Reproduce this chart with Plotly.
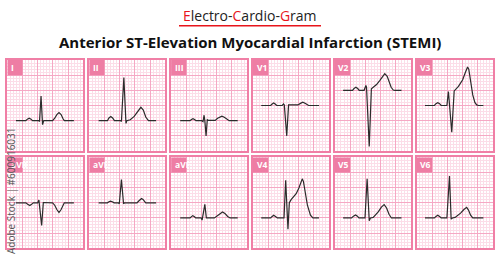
import plotly.graph_objects as go

# ---------------- data (grid units: 1 small square; y relative to baseline) ----------------
lead_names = ["I", "II", "III", "V1", "V2", "V3", "aVR", "aVL", "aVF", "V4", "V5", "V6"]
baselines = [10, 10, 10, 15, 20, 15, 15, 15, 10, 10, 10, 10]

I_x = [2.85, 6.1, 6.6, 7.2, 7.8, 8.3, 10.4, 10.6, 11.1, 11.6, 12.0, 14.9, 15.6, 16.3, 17.0, 17.7, 18.3, 18.75, 21.9]
I_y = [0, 0, 0.5, 0.8, 0.5, 0, 0, -0.3, 8.1, -1.3, 0, 0, 0.8, 2.0, 2.7, 2.0, 0.7, 0, 0]

II_x = [3.1, 6.0, 6.5, 7.1, 7.7, 8.3, 10.4, 10.6, 11.4, 12.1, 12.4, 13.5, 14.8, 16.0, 17.0, 17.8, 18.6, 19.5, 22.0]
II_y = [0, 0, 0.9, 1.4, 0.9, 0, 0, -0.3, 14.2, -0.9, 0, 0.3, 1.4, 3.0, 4.4, 3.5, 1.2, 0, 0]

III_x = [3.0, 6.25, 6.7, 7.2, 7.7, 8.2, 10.1, 10.5, 10.85, 11.1, 11.5, 11.9, 12.2, 14.5, 15.3, 16.0, 16.7, 17.5, 18.3, 19.1, 21.9]
III_y = [0, 0, 0.4, 0.66, 0.4, 0, 0, -0.3, 1.8, 0, -5.0, 0.3, 0.1, 0.1, 0.8, 1.3, 1.5, 1.1, 0.4, 0, 0]

V1_x = [2.7, 5.8, 6.3, 6.8, 7.3, 7.8, 9.6, 10.05, 10.3, 11.1, 11.7, 14.8, 15.6, 16.4, 17.4, 18.3, 21.7]
V1_y = [0, 0, 0.5, 0.8, 0.5, 0, 0, 0.5, 0.2, -10.0, 0.2, 0.2, 0.7, 1.1, 0.6, 0, 0]

V2_x = [2.7, 5.8, 6.3, 6.9, 7.5, 8.0, 9.6, 10.2, 10.4, 11.3, 12.0, 13.7, 14.8, 15.7, 16.4, 17.2, 17.9, 18.5, 19.2, 19.7, 21.9]
V2_y = [0, 0, 0.6, 1.0, 0.6, 0, 0, 1.6, 1.0, -18.5, 0.5, 1.9, 3.3, 4.8, 5.5, 4.6, 2.7, 1.0, 0.1, 0, 0]

V3_x = [2.7, 5.8, 6.3, 6.9, 7.5, 8.0, 9.9, 10.4, 11.5, 12.3, 13.7, 15.1, 15.9, 16.7, 17.1, 17.5, 18.4, 19.1, 19.7, 20.3, 21.9]
V3_y = [0, 0, 0.6, 0.9, 0.6, 0, 0, 4.6, -8.8, 4.8, 6.3, 8.5, 10.7, 12.7, 12.0, 9.0, 3.5, 1.0, 0.2, 0, 0]

aVR_x = [2.85, 6.1, 6.7, 7.4, 8.0, 8.55, 10.0, 10.4, 11.3, 11.85, 14.9, 15.6, 16.3, 17.0, 17.7, 18.3, 18.75, 21.9]
aVR_y = [0, 0, -0.5, -0.9, -0.5, 0, 0, 0.9, -7.5, 0.1, 0, -0.8, -2.2, -3.2, -2.2, -0.7, 0, 0]

aVL_x = [3.1, 6.0, 6.5, 7.0, 7.6, 8.2, 9.6, 9.9, 10.6, 11.3, 11.6, 15.7, 16.3, 16.8, 17.2, 17.7, 18.2, 18.6, 22.0]
aVL_y = [0, 0, 0.35, 0.55, 0.35, 0, 0, -0.3, 7.7, -0.3, 0, 0, 0.6, 1.2, 1.4, 1.1, 0.4, 0, 0]

aVF_x = [3.0, 6.25, 6.7, 7.1, 7.6, 8.1, 9.9, 10.2, 11.1, 11.6, 14.25, 15.2, 16.1, 16.9, 17.7, 18.6, 19.4, 21.9]
aVF_y = [0, 0, 0.45, 0.77, 0.45, 0, 0, -0.7, 4.5, 0, 0, 0.7, 1.6, 2.0, 1.5, 0.5, 0, 0]

V4_x = [2.7, 5.8, 6.3, 6.8, 7.4, 8.0, 10.2, 10.75, 11.5, 11.95, 12.6, 14.2, 15.1, 16.2, 16.6, 17.0, 17.9, 18.9, 19.7, 21.7]
V4_y = [0, 0, 0.5, 0.9, 0.5, 0, 0, 12.4, -3.7, 5.0, 6.1, 8.0, 9.9, 12.9, 12.0, 9.1, 4.2, 0.9, 0, 0]

V5_x = [2.7, 5.5, 6.1, 6.8, 7.4, 7.9, 9.9, 10.6, 11.3, 11.7, 12.6, 14.25, 15.3, 16.2, 17.0, 17.8, 18.6, 21.9]
V5_y = [0, 0, 0.6, 1.0, 0.6, 0, 0, 12.9, -0.9, 0, 0.2, 2.0, 3.6, 4.4, 3.3, 1.2, 0, 0]

V6_x = [2.7, 5.8, 6.3, 6.9, 7.5, 8.0, 9.9, 10.75, 11.3, 11.7, 12.6, 14.4, 15.5, 16.4, 17.0, 17.7, 18.4, 21.9]
V6_y = [0, 0, 0.5, 0.9, 0.5, 0, 0, 13.8, -0.4, 0, 0.2, 1.6, 2.8, 3.5, 2.6, 0.9, 0, 0]

lead_x = [I_x, II_x, III_x, V1_x, V2_x, V3_x, aVR_x, aVL_x, aVF_x, V4_x, V5_x, V6_x]
lead_y = [I_y, II_y, III_y, V1_y, V2_y, V3_y, aVR_y, aVL_y, aVF_y, V4_y, V5_y, V6_y]

title_main = "Anterior ST-Elevation Myocardial Infarction (STEMI)"
watermark = "Adobe Stock | #600916031"

# ---------------- layout ----------------
W, H = 500, 256
col_left0, col_pitch, panel_w = 7.3, 81.9, 76.0
row_tops = [60.0, 157.3]
panel_h = 91.0

MAJOR = "#f5a8c4"
MINOR = "#fcdde8"
BORDER = "#f07fa6"
LABEL_BG = "#ee7da4"
TRACE = "#2b2b2b"

fig = go.Figure()
layout_axes = {}
shapes = []
annotations = []

for i, name in enumerate(lead_names):
    r, c = divmod(i, 6)
    left = col_left0 + col_pitch * c
    top = row_tops[r]
    dx = [left / W, (left + panel_w) / W]
    dy = [1 - (top + panel_h) / H, 1 - top / H]
    xa = "x" if i == 0 else f"x{i+1}"
    ya = "y" if i == 0 else f"y{i+1}"
    xkey = "xaxis" if i == 0 else f"xaxis{i+1}"
    ykey = "yaxis" if i == 0 else f"yaxis{i+1}"
    common = dict(showticklabels=False, ticks="", zeroline=False, showgrid=True,
                  gridcolor=MAJOR, gridwidth=1, tick0=0, dtick=5,
                  minor=dict(dtick=1, tick0=0, showgrid=True, gridcolor=MINOR, gridwidth=1),
                  showline=True, mirror=True, linecolor=BORDER, linewidth=1.5,
                  fixedrange=True)
    layout_axes[xkey] = dict(common, domain=dx, range=[0, 25], anchor=ya)
    layout_axes[ykey] = dict(common, domain=dy, range=[0, 30], anchor=xa)

    base = baselines[i]
    fig.add_trace(go.Scatter(
        x=lead_x[i], y=[base + v for v in lead_y[i]], mode="lines",
        line=dict(color=TRACE, width=1.2), xaxis=xa, yaxis=ya,
        hoverinfo="skip", showlegend=False))

    shapes.append(dict(type="rect", xref=xa, yref=ya, x0=0, x1=5, y0=25, y1=30,
                       fillcolor=LABEL_BG, line=dict(width=0), layer="above"))
    annotations.append(dict(text=f"<b>{name}</b>", xref=xa, yref=ya, x=0.5, y=27.5,
                            xanchor="left", yanchor="middle", showarrow=False,
                            font=dict(family="Open Sans", size=8.5, color="white")))

annotations.append(dict(
    text='<span style="color:#e8141b">E</span>lectro-<span style="color:#e8141b">C</span>ardio-<span style="color:#e8141b">G</span>ram',
    xref="paper", yref="paper", x=0.5, y=1 - 15.7 / H, xanchor="center", yanchor="middle",
    showarrow=False, font=dict(family="Open Sans", size=14, color="#222222")))
annotations.append(dict(
    text=f"<b>{title_main}</b>", xref="paper", yref="paper", x=0.5, y=1 - 41.7 / H,
    xanchor="center", yanchor="middle", showarrow=False,
    font=dict(family="Open Sans", size=15, color="#111111")))
annotations.append(dict(
    text=watermark, xref="paper", yref="paper", x=11 / W, y=1 - 191 / H,
    xanchor="center", yanchor="middle", textangle=-90, showarrow=False,
    font=dict(family="Open Sans", size=10, color="#555555")))

shapes.append(dict(type="line", xref="paper", yref="paper", x0=179 / W, x1=321 / W,
                   y0=1 - 25.7 / H, y1=1 - 25.7 / H, line=dict(color="#e8141b", width=1.5)))

fig.update_layout(width=W, height=H, margin=dict(l=0, r=0, t=0, b=0),
                  paper_bgcolor="white", plot_bgcolor="white",
                  shapes=shapes, annotations=annotations, **layout_axes)

fig.write_html("out.html")
